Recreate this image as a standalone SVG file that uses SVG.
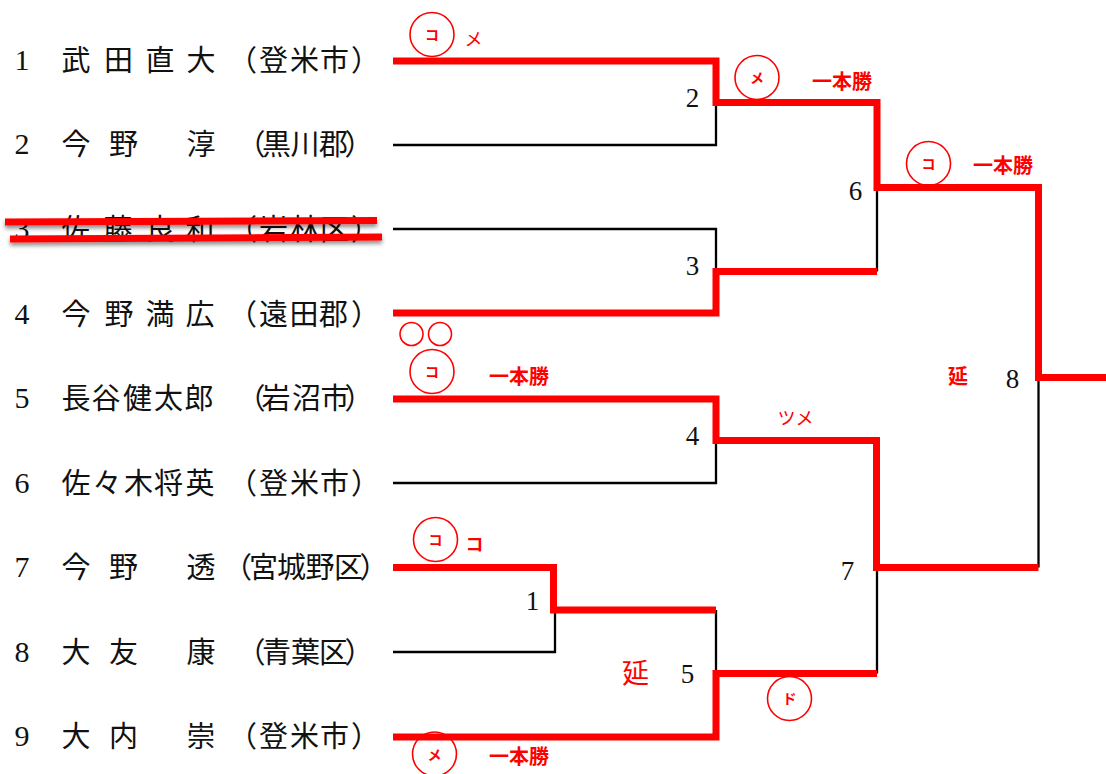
<svg xmlns="http://www.w3.org/2000/svg" width="1106" height="774" viewBox="0 0 1106 774">
<style>
.nm{font-family:"Noto Sans CJK JP","Noto Sans CJK SC",sans-serif;font-size:29px;fill:#111;text-anchor:middle}
.no{font-family:"Liberation Serif",serif;font-size:30px;fill:#111;text-anchor:middle}
.lb{font-family:"Liberation Serif",serif;font-size:27px;fill:#111;text-anchor:middle}
.rt{font-family:"Noto Sans CJK JP",sans-serif;font-weight:bold;fill:#ff0000;text-anchor:middle}
.rn{font-family:"Noto Sans CJK JP",sans-serif;font-weight:normal;fill:#ff0000;text-anchor:middle}
.red{fill:none;stroke:#ff0000;stroke-width:7;stroke-linejoin:miter;stroke-linecap:butt}
.blk{fill:none;stroke:#000;stroke-width:2.3}
.cir{fill:none;stroke:#ff0000;stroke-width:1.6}
</style>
<defs>
<filter id="sh" x="-5%" y="-100%" width="110%" height="300%">
<feDropShadow dx="0" dy="3" stdDeviation="2" flood-color="#000" flood-opacity="0.45"/>
</filter>
</defs>
<rect width="1106" height="774" fill="#fff"/>

<g id="entries">
<g id="e1"><text class="no" x="22" y="70">1</text><text class="nm" x="76 118.5 160 201" y="71">武田直大</text><text class="nm" x="242.4 273.5 304.5 334.5 365.6" y="71">（登米市）</text></g>
<g id="e2"><text class="no" x="22" y="154">2</text><text class="nm" x="76 123.5 201" y="155">今野淳</text><text class="nm" x="251 276.5 305 333.5 359" y="155">（黒川郡）</text></g>
<g id="e3"><text class="no" x="22" y="239">3</text><text class="nm" x="76 118 160 200" y="240">佐藤良和</text><text class="nm" x="242.4 273.5 304.5 334.5 365.6" y="240">（岩林区）</text></g>
<g id="e4"><text class="no" x="22" y="324">4</text><text class="nm" x="76 119 160 200" y="325">今野満広</text><text class="nm" x="242.4 273.5 304 333.5 365.6" y="325">（遠田郡）</text></g>
<g id="e5"><text class="no" x="22" y="408">5</text><text class="nm" x="76 106 137.5 168.5 199" y="409">長谷健太郎</text><text class="nm" x="251 276 306.5 335 359" y="409">（岩沼市）</text></g>
<g id="e6"><text class="no" x="22" y="493">6</text><text class="nm" x="76 107 138.5 168.5 200" y="494">佐々木将英</text><text class="nm" x="242.4 273.5 304.5 334.5 365.6" y="494">（登米市）</text></g>
<g id="e7"><text class="no" x="22" y="577">7</text><text class="nm" x="76 123.5 201" y="578">今野透</text><text class="nm" x="237.4 263.5 291.5 320 348.5 374" y="578">（宮城野区）</text></g>
<g id="e8"><text class="no" x="22" y="662">8</text><text class="nm" x="76 123.5 201" y="663">大友康</text><text class="nm" x="251 276.5 305.5 333.5 359" y="663">（青葉区）</text></g>
<g id="e9"><text class="no" x="22" y="746">9</text><text class="nm" x="76 123.5 201" y="747">大内崇</text><text class="nm" x="242.4 273.5 304.5 334.5 365.6" y="747">（登米市）</text></g>
</g>

<g id="strike" filter="url(#sh)">
<line x1="5" y1="222" x2="377" y2="220.5" stroke="#ff0000" stroke-width="7"/>
<line x1="10" y1="239" x2="382" y2="237" stroke="#ff0000" stroke-width="7"/>
</g>

<g id="connectors">
<path class="blk" d="M393,145 H716 V102.5"/>
<path class="blk" d="M393,229 H716 V271.5"/>
<path class="blk" d="M877,187.5 V271.5"/>
<path class="blk" d="M393,483 H716 V440.5"/>
<path class="blk" d="M1038.5,377.5 V567.5"/>
<path class="blk" d="M393,652 H555 V610"/>
<path class="blk" d="M716,610 V673.5"/>
<path class="blk" d="M877,567.5 V673.5"/>
<path class="red" d="M393,61 H716 V102.5 H877 V187.5 H1038.5 V377.5 H1106"/>
<path class="red" d="M393,313 H716 V271.5 H877"/>
<path class="red" d="M393,399 H716 V440.5 H876.5 V567.5 H1038.5"/>
<path class="red" d="M393,567.5 H553.5 V610 H716"/>
<path class="red" d="M393,737 H716 V673.5 H877"/>
</g>

<g id="match-labels">
<text class="lb" x="692.5" y="107">2</text>
<text class="lb" x="692.5" y="275">3</text>
<text class="lb" x="855.5" y="200">6</text>
<text class="lb" x="692.5" y="445">4</text>
<text class="lb" x="532.5" y="610">1</text>
<text class="lb" x="687.5" y="683">5</text>
<text class="lb" x="847.5" y="580">7</text>
<text class="lb" x="1012.5" y="388">8</text>
</g>

<g id="marks">
<circle class="cir" cx="432" cy="34.5" r="22"/><text class="rt" x="432" y="40" font-size="14">コ</text>
<text class="rn" x="473.5" y="46" font-size="18">メ</text>
<circle class="cir" cx="757" cy="77.5" r="22"/><text class="rt" x="757" y="83" font-size="14">メ</text>
<text class="rt" x="842" y="89" font-size="20">一本勝</text>
<circle class="cir" cx="928.5" cy="163.5" r="22"/><text class="rt" x="928.5" y="169" font-size="14">コ</text>
<text class="rt" x="1003" y="173" font-size="20">一本勝</text>
<circle class="cir" cx="411.5" cy="334" r="11.5"/>
<circle class="cir" cx="440" cy="334" r="11.5"/>
<circle class="cir" cx="432" cy="371.5" r="22"/><text class="rt" x="432" y="377" font-size="14">コ</text>
<text class="rt" x="519" y="384" font-size="20">一本勝</text>
<text class="rn" x="795.5" y="425" font-size="18">ツメ</text>
<text class="rt" x="958" y="384" font-size="20">延</text>
<circle class="cir" cx="435.5" cy="539.5" r="22"/><text class="rt" x="435.5" y="545" font-size="14">コ</text>
<text class="rt" x="474.5" y="551" font-size="18">コ</text>
<text class="rn" x="635.5" y="683" font-size="27">延</text>
<circle class="cir" cx="789.5" cy="698.5" r="22"/><text class="rt" x="789.5" y="704" font-size="14">ド</text>
<circle class="cir" cx="434.5" cy="754" r="22"/><text class="rt" x="434.5" y="759.5" font-size="14">メ</text>
<text class="rt" x="519" y="764" font-size="20">一本勝</text>
</g>
</svg>
